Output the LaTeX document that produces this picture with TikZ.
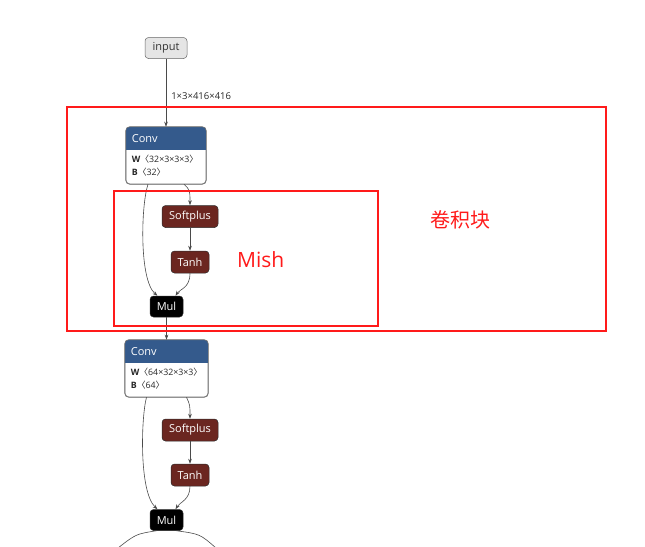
\documentclass[tikz,border=0pt]{standalone}
\usepackage{fontspec}
\setmainfont{Open Sans}
\newfontfamily\cjk{Noto Sans CJK SC}
\newfontfamily\lbl{Open Sans}
\usetikzlibrary{arrows.meta,calc}
\definecolor{convblue}{HTML}{345A8C}
\definecolor{actred}{HTML}{6B2620}
\definecolor{edgegray}{HTML}{4A4A4A}
\definecolor{redline}{HTML}{FF1A1A}
\tikzset{
  x=1pt,y=-1pt,
  opbox/.style={rounded corners=3.5pt, inner sep=0pt, font=\fontsize{11}{12}\selectfont, text=white, draw=edgegray!60!black, line width=0.5pt},
  inbox/.style={opbox, fill=black!10, draw=black!60, text=black!80, minimum width=42, minimum height=21},
  actbox/.style={opbox, fill=actred, minimum height=22},
  mulbox/.style={opbox, fill=black, minimum width=33, minimum height=21},
  convbox/.style={rounded corners=4pt, draw=black!55, fill=white, line width=0.6pt, inner sep=0pt},
  arr/.style={draw=edgegray, line width=0.6pt, -{Stealth[length=5pt,width=3.6pt]}},
  ln/.style={draw=edgegray, line width=0.6pt},
  redbox/.style={draw=redline, line width=2pt},
  small/.style={font=\fontsize{8.8}{10}\selectfont, text=black!85, inner sep=0pt, anchor=west},
}
\newcommand{\lb}{{\cjk〈}}
\newcommand{\rb}{{\cjk〉}}
\newcommand{\convnode}[6]{% name, cx, cy, width, Wtext, Btext
  \node[convbox, minimum width=#4, minimum height=57] (#1) at (#2,#3) {};
  \begin{scope}
    \clip[rounded corners=4pt] (#1.south west) rectangle (#1.north east);
    \fill[convblue] (#1.north west) rectangle ($(#1.north east)+(0,23)$);
  \end{scope}
  \draw[rounded corners=4pt, draw=black!55, line width=0.6pt] (#1.south west) rectangle (#1.north east);
  \node[anchor=west, text=white, font=\fontsize{11}{12}\selectfont, inner sep=0pt] (#1h) at ($(#1.north west)+(6,11.5)$) {Conv};
  \node[small] (#1w) at ($(#1.north west)+(6,32)$) {\textbf{W}\lb#5\rb};
  \node[small] (#1b) at ($(#1.north west)+(6,45)$) {\textbf{B}\lb#6\rb};
}
\begin{document}
\begin{tikzpicture}
\useasboundingbox (0,0) rectangle (645,546);
\clip (0,0) rectangle (645,546);
% input
\node[inbox] (in) at (166,48) {input};
% first conv block
\convnode{c1}{166}{155.5}{80}{32×3×3×3}{32}
\node[actbox, minimum width=56] (sp1) at (190,216.5) {Softplus};
\node[actbox, minimum width=38] (th1) at (190,262) {Tanh};
\node[mulbox] (m1) at (166.5,306.5) {Mul};
% second conv block
\convnode{c2}{166.5}{368.5}{83}{64×32×3×3}{64}
\node[actbox, minimum width=56] (sp2) at (190,430) {Softplus};
\node[actbox, minimum width=38] (th2) at (190,475) {Tanh};
\node[mulbox] (m2) at (166.5,520) {Mul};
% edges
\draw[arr] (in.south) -- node[pos=0.55, right=5pt, font=\fontsize{9.5}{10}\selectfont, text=black!85, inner sep=0pt] {1×3×416×416} (c1.north);
\draw[arr] ([xshift=-18]c1.south) .. controls (141,205) and (139,280) .. ([xshift=-9]m1.north);
\draw[arr] ([xshift=18]c1.south) .. controls (190,190) .. (sp1.north);
\draw[arr] (sp1.south) -- (th1.north);
\draw[arr] (th1.south) .. controls (190,288) and (180,289) .. ([xshift=9]m1.north);
\draw[arr] (m1.south) -- (c2.north);
\draw[arr] ([xshift=-20]c2.south) .. controls (141,418) and (139,492) .. ([xshift=-9]m2.north);
\draw[arr] ([xshift=20]c2.south) .. controls (190,405) .. (sp2.north);
\draw[arr] (sp2.south) -- (th2.north);
\draw[arr] (th2.south) .. controls (190,500) and (180,502) .. ([xshift=9]m2.north);
\coordinate (lo) at (118,548);
\coordinate (ro) at (216,548);
\draw[ln] ([xshift=-10]m2.south) .. controls (136,534) .. (lo);
\draw[ln] ([xshift=10]m2.south) .. controls (200,534) .. (ro);
% red boxes
\draw[redbox] (67,107) rectangle (606,331);
\draw[redbox] (114,191) rectangle (378,326);
\node[text=redline, font=\lbl\fontsize{21}{24}\selectfont, anchor=west, inner sep=0pt] (mish) at (237,260) {Mish};
\node[text=redline, font=\cjk\fontsize{20}{24}\selectfont, anchor=west, inner sep=0pt] (juan) at (430,220) {卷积块};
\end{tikzpicture}
\end{document}
